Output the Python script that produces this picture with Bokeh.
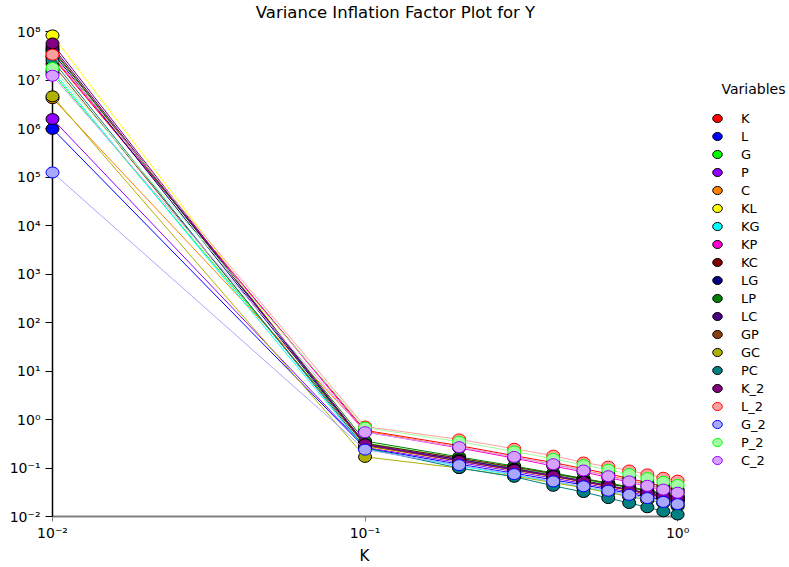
from bokeh.plotting import figure
from bokeh.models import (ColumnDataSource, FixedTicker, CustomJSTickFormatter,
                          Label, Legend, LegendItem, Title)
from bokeh.embed import file_html
from bokeh.resources import INLINE

# ---- data -------------------------------------------------------------
ridge_k = [0.01, 0.1, 0.2, 0.3, 0.4, 0.5, 0.6, 0.7, 0.8, 0.9, 1.0]

vif_K   = [3.0e7, 0.60, 0.29, 0.18, 0.13, 0.097, 0.076, 0.061, 0.050, 0.042, 0.036]
vif_L   = [1.0e6, 0.26, 0.12, 0.078, 0.057, 0.045, 0.036, 0.030, 0.025, 0.022, 0.019]
vif_G   = [1.4e7, 0.33, 0.16, 0.10, 0.075, 0.058, 0.047, 0.039, 0.033, 0.028, 0.025]
vif_P   = [1.6e6, 0.27, 0.13, 0.085, 0.062, 0.048, 0.039, 0.032, 0.027, 0.024, 0.021]
vif_C   = [4.3e6, 0.58, 0.27, 0.17, 0.12, 0.090, 0.070, 0.056, 0.046, 0.038, 0.033]
vif_KL  = [8.5e7, 0.28, 0.14, 0.090, 0.066, 0.051, 0.041, 0.034, 0.029, 0.025, 0.022]
vif_KG  = [1.6e7, 0.25, 0.11, 0.072, 0.052, 0.040, 0.032, 0.026, 0.022, 0.019, 0.016]
vif_KP  = [3.2e7, 0.56, 0.26, 0.16, 0.11, 0.083, 0.064, 0.051, 0.042, 0.035, 0.030]
vif_KC  = [4.5e7, 0.32, 0.16, 0.105, 0.077, 0.060, 0.048, 0.040, 0.034, 0.029, 0.025]
vif_LG  = [3.8e7, 0.30, 0.15, 0.095, 0.069, 0.053, 0.043, 0.035, 0.030, 0.026, 0.023]
vif_LP  = [4.2e7, 0.36, 0.17, 0.11, 0.079, 0.061, 0.049, 0.041, 0.035, 0.030, 0.026]
vif_LC  = [5.0e7, 0.31, 0.15, 0.097, 0.071, 0.055, 0.044, 0.036, 0.031, 0.027, 0.024]
vif_GP  = [2.2e7, 0.29, 0.14, 0.091, 0.067, 0.052, 0.042, 0.035, 0.029, 0.025, 0.022]
vif_GC  = [4.7e6, 0.17, 0.10, 0.068, 0.050, 0.039, 0.031, 0.026, 0.022, 0.019, 0.017]
vif_PC  = [2.6e7, 0.26, 0.10, 0.066, 0.043, 0.032, 0.024, 0.019, 0.0155, 0.0128, 0.011]
vif_K_2 = [5.8e7, 0.31, 0.14, 0.092, 0.068, 0.052, 0.042, 0.035, 0.030, 0.026, 0.023]
vif_L_2 = [3.4e7, 0.72, 0.39, 0.25, 0.18, 0.13, 0.107, 0.089, 0.074, 0.063, 0.055]
vif_G_2 = [1.26e5, 0.24, 0.115, 0.075, 0.053, 0.042, 0.034, 0.028, 0.024, 0.020, 0.018]
vif_P_2 = [1.8e7, 0.68, 0.35, 0.22, 0.155, 0.115, 0.092, 0.075, 0.062, 0.052, 0.045]
vif_C_2 = [1.25e7, 0.55, 0.27, 0.17, 0.12, 0.089, 0.068, 0.053, 0.043, 0.036, 0.031]

variable_names = ["K", "L", "G", "P", "C", "KL", "KG", "KP", "KC", "LG",
                  "LP", "LC", "GP", "GC", "PC", "K_2", "L_2", "G_2", "P_2", "C_2"]
variable_values = [vif_K, vif_L, vif_G, vif_P, vif_C, vif_KL, vif_KG, vif_KP, vif_KC,
                   vif_LG, vif_LP, vif_LC, vif_GP, vif_GC, vif_PC, vif_K_2, vif_L_2,
                   vif_G_2, vif_P_2, vif_C_2]

x_ticks = [0.01, 0.1, 1.0]
y_ticks = [1e-2, 1e-1, 1e0, 1e1, 1e2, 1e3, 1e4, 1e5, 1e6, 1e7, 1e8]
x_axis_span = (0.01, 1.0)
y_axis_span = (0.01, 1e8)

# ---- styles -----------------------------------------------------------
fill_colors = ["#FF0000", "#0000FF", "#00FF00", "#9400FF", "#FF8000", "#FFFF00",
               "#00FFFF", "#FF00D0", "#800000", "#000080", "#008000", "#4B0082",
               "#8B4010", "#B0B000", "#008080", "#800080", "#FFA0A0", "#A8A8FF",
               "#A0FFA0", "#D8A0FF"]
edge_colors = ["#000000"] * 16 + ["#FF0000", "#0000FF", "#00FF00", "#9400FF"]

FONT = "DejaVu Sans"

# frame spans the whole canvas right of the y axis and above the x axis;
# the axis lines themselves are limited to the data span with `bounds`
p = figure(width=789, height=567, x_axis_type="log", y_axis_type="log",
           x_range=(0.01, 2.28), y_range=(0.01, 10 ** 8.65), title=None,
           output_backend="svg", toolbar_location=None,
           min_border_left=52, min_border_right=0,
           min_border_top=0, min_border_bottom=51)
p.outline_line_color = None
p.xgrid.visible = False
p.ygrid.visible = False

sup_fmt = CustomJSTickFormatter(code="""
const sup = {"0":"\u2070","1":"\u00b9","2":"\u00b2","3":"\u00b3","4":"\u2074",
             "5":"\u2075","6":"\u2076","7":"\u2077","8":"\u2078","9":"\u2079","-":"\u207b"};
const e = Math.round(Math.log10(tick));
return "10" + String(e).split("").map(c => sup[c]).join("");
""")

xa = p.xaxis[0]
xa.bounds = x_axis_span
xa.ticker = FixedTicker(ticks=x_ticks, minor_ticks=[])
xa.formatter = sup_fmt
xa.axis_line_color = "#808080"
xa.axis_line_width = 2
xa.major_tick_line_color = "#808080"
xa.major_tick_out = 5
xa.major_tick_in = 0
xa.minor_tick_line_color = None
xa.major_label_standoff = 3
xa.major_label_text_font = FONT
xa.major_label_text_font_size = "14px"
xa.major_label_text_color = "#000000"

ya = p.yaxis[0]
ya.bounds = y_axis_span
ya.ticker = FixedTicker(ticks=y_ticks, minor_ticks=[])
ya.formatter = sup_fmt
ya.axis_line_color = "#000000"
ya.axis_line_width = 1.5
ya.major_tick_line_color = "#000000"
ya.major_tick_out = 7
ya.major_tick_in = 0
ya.minor_tick_line_color = None
ya.major_label_standoff = 5
ya.major_label_text_font = FONT
ya.major_label_text_font_size = "14px"
ya.major_label_text_color = "#000000"

# x-axis title "K" placed below the axis
p.add_layout(Title(text="K", align="left", offset=307, vertical_align="middle",
                   text_font=FONT, text_font_size="15px", text_font_style="normal",
                   text_color="#000000", standoff=4), "below")

items = []
for name, vals, fc, ec in zip(variable_names, variable_values, fill_colors, edge_colors):
    src = ColumnDataSource(data=dict(x=ridge_k, y=vals))
    p.line(x="x", y="y", source=src, line_color=fc, line_width=1, level="annotation")
    mk = p.ellipse(x="x", y="y", width=13, height=11, width_units="screen",
                   height_units="screen", source=src, fill_color=fc, line_color=ec,
                   line_width=1, level="annotation")
    items.append(LegendItem(label=name, renderers=[mk]))

legend = Legend(items=items, location=(659, 47), padding=0, margin=0,
                spacing=0, glyph_width=12, glyph_height=18, label_height=18,
                label_standoff=18, label_text_font=FONT,
                label_text_font_size="13px", label_text_baseline="middle",
                label_text_color="#000000",
                border_line_color=None, background_fill_alpha=0)
p.add_layout(legend)

p.add_layout(Label(x=343, y=504, x_units="screen", y_units="screen",
                   text="Variance Inflation Factor Plot for Y", text_align="center",
                   text_baseline="middle", text_font=FONT, text_font_size="16.5px",
                   text_color="#000000"))
p.add_layout(Label(x=701, y=428, x_units="screen", y_units="screen",
                   text="Variables", text_align="center", text_baseline="middle",
                   text_font=FONT, text_font_size="14px", text_color="#000000"))

with open("out.html", "w") as f:
    f.write(file_html(p, INLINE))
